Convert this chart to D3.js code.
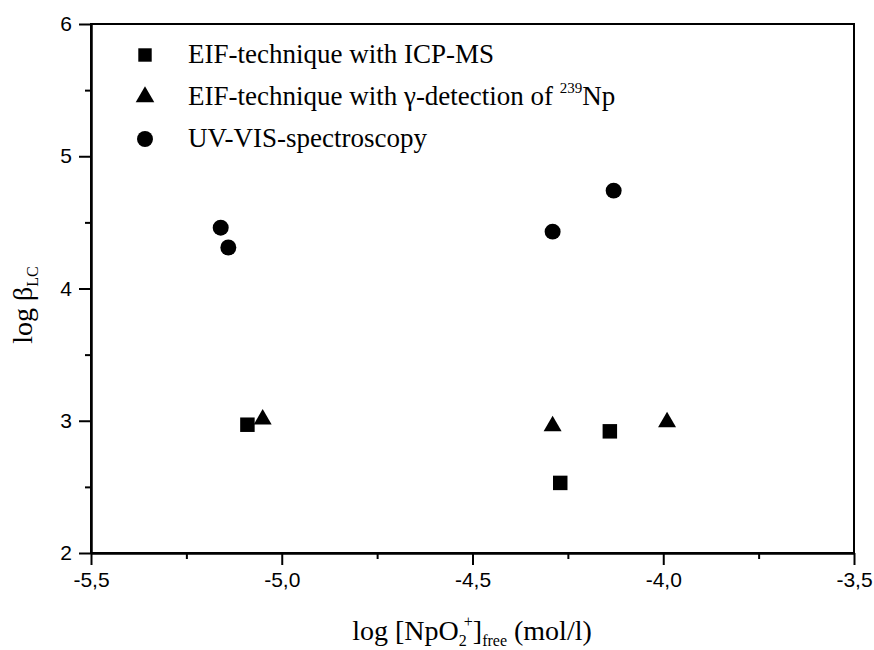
<!DOCTYPE html>
<html>
<head>
<meta charset="utf-8">
<script src="https://cdn.jsdelivr.net/npm/d3@7"></script>
<style>
  html, body { margin: 0; padding: 0; background: #fff; }
  svg { display: block; }
  .tick-label { font-family: "Liberation Sans", Arial, sans-serif; font-size: 21px; fill: #000; }
  .serif { font-family: "Liberation Serif", "Times New Roman", serif; fill: #000; }
</style>
</head>
<body>
<svg id="chart" width="874" height="650"></svg>
<script>
// Series: log [NpO2+]free (mol/l) vs log beta_LC
const icpX = [-5.09, -4.27, -4.14];
const icpY = [2.97, 2.53, 2.92];
const gammaX = [-5.05, -4.29, -3.99];
const gammaY = [3.01, 2.96, 2.99];
const uvX = [-5.16, -5.14, -4.29, -4.13];
const uvY = [4.46, 4.31, 4.43, 4.74];

const xTicks = [-5.5, -5.0, -4.5, -4.0, -3.5];
const xMinorTicks = [-5.25, -4.75, -4.25, -3.75];
const yTicks = [2, 3, 4, 5, 6];
const yMinorTicks = [2.5, 3.5, 4.5, 5.5];

const legendLabels = ["EIF-technique with ICP-MS", "EIF-technique with \u03b3-detection of ", "UV-VIS-spectroscopy"];

const svg = d3.select("#chart");
const plotLeft = 91, plotRight = 854, plotTop = 24, plotBottom = 553;

const x = d3.scaleLinear().domain([-5.5, -3.5]).range([plotLeft, plotRight]);
const y = d3.scaleLinear().domain([2, 6]).range([plotBottom, plotTop]);

const fmt = d => d3.format(".1f")(d).replace(".", ",").replace("\u2212", "-");

// Frame (top and right sides without ticks)
svg.append("rect")
  .attr("x", plotLeft).attr("y", plotTop)
  .attr("width", plotRight - plotLeft).attr("height", plotBottom - plotTop)
  .attr("fill", "none").attr("stroke", "#000").attr("stroke-width", 2);

// Bottom axis
const gx = svg.append("g").attr("transform", `translate(0,${plotBottom})`);
gx.call(d3.axisBottom(x).tickValues(xTicks).tickSize(12).tickSizeOuter(0).tickPadding(7).tickFormat(fmt));
gx.append("g").call(d3.axisBottom(x).tickValues(xMinorTicks).tickSize(6).tickSizeOuter(0).tickFormat(""));
gx.selectAll("path.domain").attr("stroke", "#000").attr("stroke-width", 2);
gx.selectAll(".tick line").attr("stroke", "#000").attr("stroke-width", 2);
gx.selectAll(".tick text").attr("class", "tick-label").attr("font-size", null).attr("font-family", null);

// Left axis
const gy = svg.append("g").attr("transform", `translate(${plotLeft},0)`);
gy.call(d3.axisLeft(y).tickValues(yTicks).tickSize(12).tickSizeOuter(0).tickPadding(7).tickFormat(d3.format("d")));
gy.append("g").call(d3.axisLeft(y).tickValues(yMinorTicks).tickSize(6).tickSizeOuter(0).tickFormat(""));
gy.selectAll("path.domain").attr("stroke", "#000").attr("stroke-width", 2);
gy.selectAll(".tick line").attr("stroke", "#000").attr("stroke-width", 2);
gy.selectAll(".tick text").attr("class", "tick-label").attr("font-size", null).attr("font-family", null);

// Markers
const sq = d3.symbol().type(d3.symbolSquare).size(210);
const tri = d3.symbol().type(d3.symbolTriangle).size(140);
const circ = d3.symbol().type(d3.symbolCircle).size(200);

svg.append("g").selectAll("path").data(d3.zip(icpX, icpY)).join("path")
  .attr("d", sq).attr("fill", "#000")
  .attr("transform", d => `translate(${x(d[0])},${y(d[1])})`);
svg.append("g").selectAll("path").data(d3.zip(gammaX, gammaY)).join("path")
  .attr("d", tri).attr("fill", "#000")
  .attr("transform", d => `translate(${x(d[0])},${y(d[1])})`);
svg.append("g").selectAll("path").data(d3.zip(uvX, uvY)).join("path")
  .attr("d", circ).attr("fill", "#000")
  .attr("transform", d => `translate(${x(d[0])},${y(d[1])})`);

// Legend
const legendSymbols = [d3.symbol().type(d3.symbolSquare).size(180), d3.symbol().type(d3.symbolTriangle).size(150), d3.symbol().type(d3.symbolCircle).size(200)];
const legendRowY = [55, 97, 139];
const lg = svg.append("g");
legendLabels.forEach((lab, i) => {
  lg.append("path").attr("d", legendSymbols[i]()).attr("fill", "#000")
    .attr("transform", `translate(145,${legendRowY[i]})`);
  const t = lg.append("text").attr("class", "serif").attr("x", 188).attr("y", legendRowY[i] + 8)
    .attr("font-size", 27).text(lab);
  if (i === 1) {
    t.append("tspan").attr("font-size", 15).attr("dy", -12).text("239");
    t.append("tspan").attr("dy", 12).text("Np");
  }
});

// Axis titles
const xt = svg.append("text").attr("class", "serif").attr("font-size", 28)
  .attr("x", 472).attr("y", 640).attr("text-anchor", "middle");
xt.append("tspan").text("log [NpO");
xt.append("tspan").attr("font-size", 16).attr("dy", 6).text("2");
xt.append("tspan").attr("font-size", 16).attr("dy", -19).attr("dx", -3).text("+");
xt.append("tspan").attr("dy", 13).text("]");
xt.append("tspan").attr("font-size", 16).attr("dy", 6).text("free");
xt.append("tspan").attr("dy", -6).text(" (mol/l)");

const yt = svg.append("text").attr("class", "serif").attr("font-size", 28)
  .attr("transform", "translate(32,305) rotate(-90)").attr("text-anchor", "middle");
yt.append("tspan").text("log \u03b2");
yt.append("tspan").attr("font-size", 16).attr("dy", 6).text("LC");
</script>
</body>
</html>
